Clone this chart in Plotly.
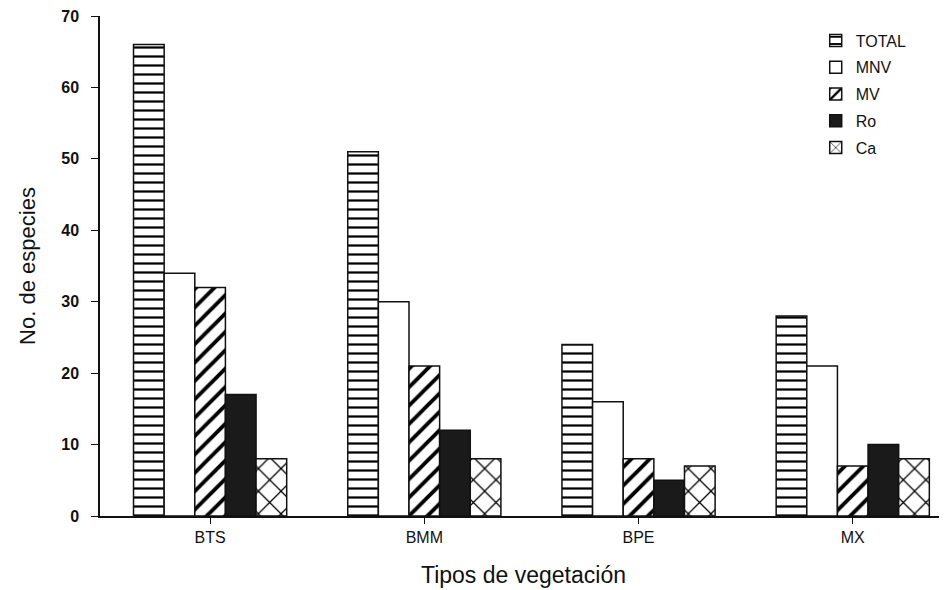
import plotly.graph_objects as go

categories = ["BTS", "BMM", "BPE", "MX"]
series_names = ["TOTAL", "MNV", "MV", "Ro", "Ca"]
total = [66, 51, 24, 28]
mnv = [34, 30, 16, 21]
mv = [32, 21, 8, 7]
ro = [17, 12, 5, 10]
ca = [8, 8, 7, 8]
y_ticks = [0, 10, 20, 30, 40, 50, 60, 70]

values = [total, mnv, mv, ro, ca]
patterns = [
    dict(shape="-", size=9, solidity=0.25, fgcolor="#000", fgopacity=1, bgcolor="white"),
    dict(shape="", bgcolor="white"),
    dict(shape="/", size=13, solidity=0.3, fgcolor="#000", fgopacity=1, bgcolor="white"),
    dict(shape="", bgcolor="#1a1a1a"),
    dict(shape="x", size=16, solidity=0.15, fgcolor="#000", fgopacity=1, bgcolor="white"),
]
colors = ["white", "white", "white", "#1a1a1a", "white"]

x_pos = list(range(len(categories)))
fig = go.Figure()
for name, vals, pat, col in zip(series_names, values, patterns, colors):
    fig.add_trace(go.Bar(
        name=name, x=x_pos, y=vals,
        marker=dict(color=col, pattern=pat, line=dict(color="#111", width=1.5)),
        legendgroup=name,
    ))

font = "Liberation Sans, Arial, sans-serif"
fig.update_layout(
    width=939, height=582,
    margin=dict(l=92, r=0, t=8, b=74),
    barmode="group", bargap=0.285, bargroupgap=0,
    plot_bgcolor="white", paper_bgcolor="white",
    font=dict(family=font, color="#111"),
    showlegend=True,
    legend=dict(x=0.845, y=0.985, xanchor="left", yanchor="top",
                font=dict(size=16, color="#111"), traceorder="grouped",
                tracegroupgap=3, bgcolor="rgba(0,0,0,0)"),
    xaxis=dict(range=[-0.514, 3.44], tickvals=x_pos, ticktext=categories,
               automargin=False,
               showline=True, linecolor="#111", linewidth=1.5,
               ticks="outside", ticklen=6, tickcolor="#111", tickwidth=1,
               showgrid=False, zeroline=False,
               tickfont=dict(size=16, family=font, color="#111"),
               title=dict(text="Tipos de vegetación", font=dict(size=23, family=font), standoff=22)),
    yaxis=dict(range=[0, 70], tickvals=y_ticks,
               automargin=False, ticklabeloverflow="allow",
               showline=True, linecolor="#111", linewidth=1.5,
               ticks="outside", ticklen=7, tickcolor="#111", tickwidth=1,
               showgrid=False, zeroline=False,
               tickfont=dict(size=16, family=font, color="#111", weight="bold"),
               ticklabelstandoff=9,
               title=dict(text="No. de especies", font=dict(size=22, family=font), standoff=20)),
)
fig.write_html("out.html")
